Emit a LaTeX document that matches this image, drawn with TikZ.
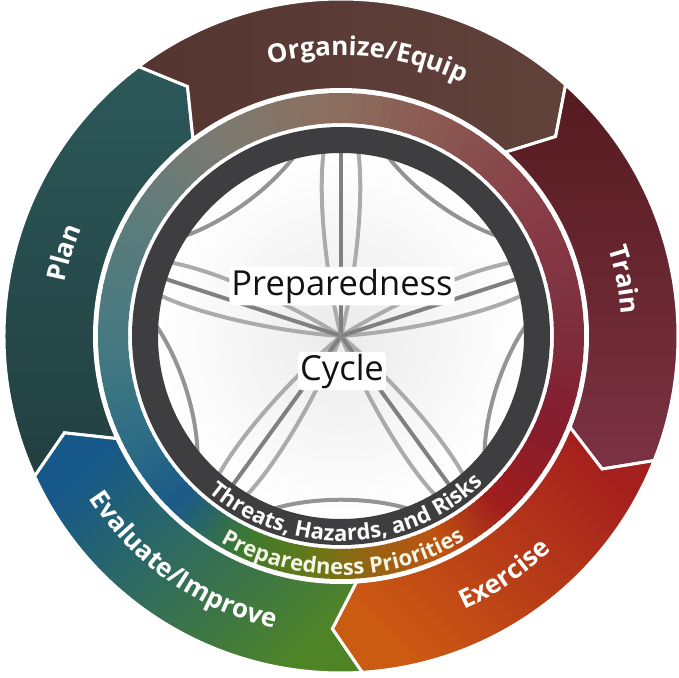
\documentclass[tikz,border=0pt]{standalone}
\usepackage{fontspec}
\setmainfont{Open Sans}
\usetikzlibrary{decorations.text}

\definecolor{g0}{HTML}{7D2E3E}
\definecolor{g30}{HTML}{873C46}
\definecolor{g60}{HTML}{8A5550}
\definecolor{g90}{HTML}{8C6E5E}
\definecolor{g120}{HTML}{7C7A70}
\definecolor{g150}{HTML}{5C7C7C}
\definecolor{g180}{HTML}{477A80}
\definecolor{g205}{HTML}{2E6E86}
\definecolor{g225}{HTML}{1C5A88}
\definecolor{g245}{HTML}{3E7A2E}
\definecolor{g262}{HTML}{667818}
\definecolor{g278}{HTML}{9A6212}
\definecolor{g295}{HTML}{BF5212}
\definecolor{g312}{HTML}{A01E1C}
\definecolor{g335}{HTML}{861C2C}
\definecolor{darkring}{HTML}{3E3E41}
\definecolor{planA}{HTML}{2C5859}
\definecolor{planB}{HTML}{223F40}
\definecolor{orgA}{HTML}{553530}
\definecolor{orgB}{HTML}{60423B}
\definecolor{trainA}{HTML}{551B1F}
\definecolor{trainB}{HTML}{7C3243}
\definecolor{exA}{HTML}{A41F1D}
\definecolor{exB}{HTML}{CC5B12}
\definecolor{evA}{HTML}{17588A}
\definecolor{evB}{HTML}{4F8426}
\definecolor{prioText}{HTML}{F3F6E4}

\newcommand{\segpath}[2]{(#1:337) arc[start angle=#1, end angle=#2, radius=337] -- (#2-5.3:293) -- (#2:246.5) arc[start angle=#2, end angle=#1, radius=246.5] -- (#1-5.3:293) -- cycle}

% clockwise label (tops outward): angle, radius, size, text
\newcommand{\cwlabel}[4]{%
  \pgfmathsetmacro{\sa}{#1+50}\pgfmathsetmacro{\ea}{#1-50}%
  \path[decorate, decoration={text along path, text align=center,
    text={|\fontsize{#3}{#3}\selectfont\bfseries\color{white}|#4}}]
    (\sa:#2) arc[start angle=\sa, end angle=\ea, radius=#2];}
% counterclockwise label (tops inward): angle, radius, size, colour, text
\newcommand{\ccwlabel}[5]{%
  \pgfmathsetmacro{\sa}{#1-60}\pgfmathsetmacro{\ea}{#1+60}%
  \path[decorate, decoration={text along path, text align=center,
    text={|\fontsize{#3}{#3}\selectfont\bfseries\color{#4}|#5}}]
    (\sa:#2) arc[start angle=\sa, end angle=\ea, radius=#2];}

\tikzset{
  seg/.style={draw=white, line width=3pt, line join=miter},
  spokemid/.style={draw=black!50, line width=4pt},
  spokeside/.style={draw=black!33, line width=4pt},
  webarc/.style={draw=black!42, line width=4pt},
  centertext/.style={fill=white, rounded corners=4pt, inner sep=2pt, text=black!93,
    font=\fontsize{34.5}{34.5}\selectfont},
}

\begin{document}
\begin{tikzpicture}[x=1pt, y=1pt]
\useasboundingbox (-341,-341) rectangle (338,336);
\fill[white] (-341,-341) rectangle (338,336);

% outer chevron segments
\shadedraw[seg, top color=planA, bottom color=planB] \segpath{204.6}{126.9};
\shadedraw[seg, left color=orgA, right color=orgB] \segpath{126.9}{48.2};
\shadedraw[seg, top color=trainA, bottom color=trainB] \segpath{48.2}{-21.7};
\shadedraw[seg, top color=exA, bottom color=exB, shading angle=-45] \segpath{-21.7}{-86.4};
\shadedraw[seg, top color=evA, bottom color=evB, shading angle=45] \segpath{273.6}{204.6};

% gradient ring
\foreach \a/\b/\ca/\cb in {0/30/g0/g30, 30/60/g30/g60, 60/90/g60/g90, 90/120/g90/g120,
  120/150/g120/g150, 150/180/g150/g180, 180/205/g180/g205, 205/225/g205/g225,
  225/245/g225/g245, 245/262/g245/g262, 262/278/g262/g278, 278/295/g278/g295,
  295/312/g295/g312, 312/335/g312/g335, 335/360/g335/g0}{
  \foreach \i in {0,...,11}{
    \pgfmathsetmacro{\ang}{\a+(\b-\a)*\i/12}
    \pgfmathsetmacro{\pct}{100*\i/12}
    \pgfmathsetmacro{\dl}{(\b-\a)/12+0.6}
    \colorlet{tmpc}{\cb!\pct!\ca}
    \draw[tmpc, line width=30pt] (\ang:228) arc[start angle=\ang, delta angle=\dl, radius=228];
  }
}

% inner disc
\shade[inner color=black!8, outer color=white] (0,0) circle (184);

% web of spokes
\foreach \t in {90,162,234,306,378}{
  \draw[webarc] (\t+13:190) .. controls (\t+25:163) and (\t+47:163) .. (\t+59:190);
  \draw[spokeside] (0,0) .. controls (\t+14:70) and (\t+9:150) .. (\t+5:190);
  \draw[spokeside] (0,0) .. controls (\t-14:70) and (\t-9:150) .. (\t-5:190);
  \draw[spokemid] (0,0) -- (\t:190);
}

% dark ring
\draw[darkring, line width=26pt] (0,0) circle (196);

% centre text
\node[centertext, anchor=base] (prep) at (1,41) {Preparedness};
\node[centertext, anchor=base] (cyc) at (1,-44) {Cycle};

% ring labels
\cwlabel{84.5}{281}{26}{Organize/Equip}
\cwlabel{11.3}{281}{26}{Train}
\cwlabel{163.3}{281}{26}{Plan}
\ccwlabel{-55.6}{300}{26}{white}{Exercise}
\ccwlabel{235}{300}{26}{white}{Evaluate/Improve}
\ccwlabel{271.9}{205}{22}{white}{Threats, Hazards, and Risks}
\ccwlabel{270.5}{239}{22}{prioText}{Preparedness Priorities}
\end{tikzpicture}
\end{document}
